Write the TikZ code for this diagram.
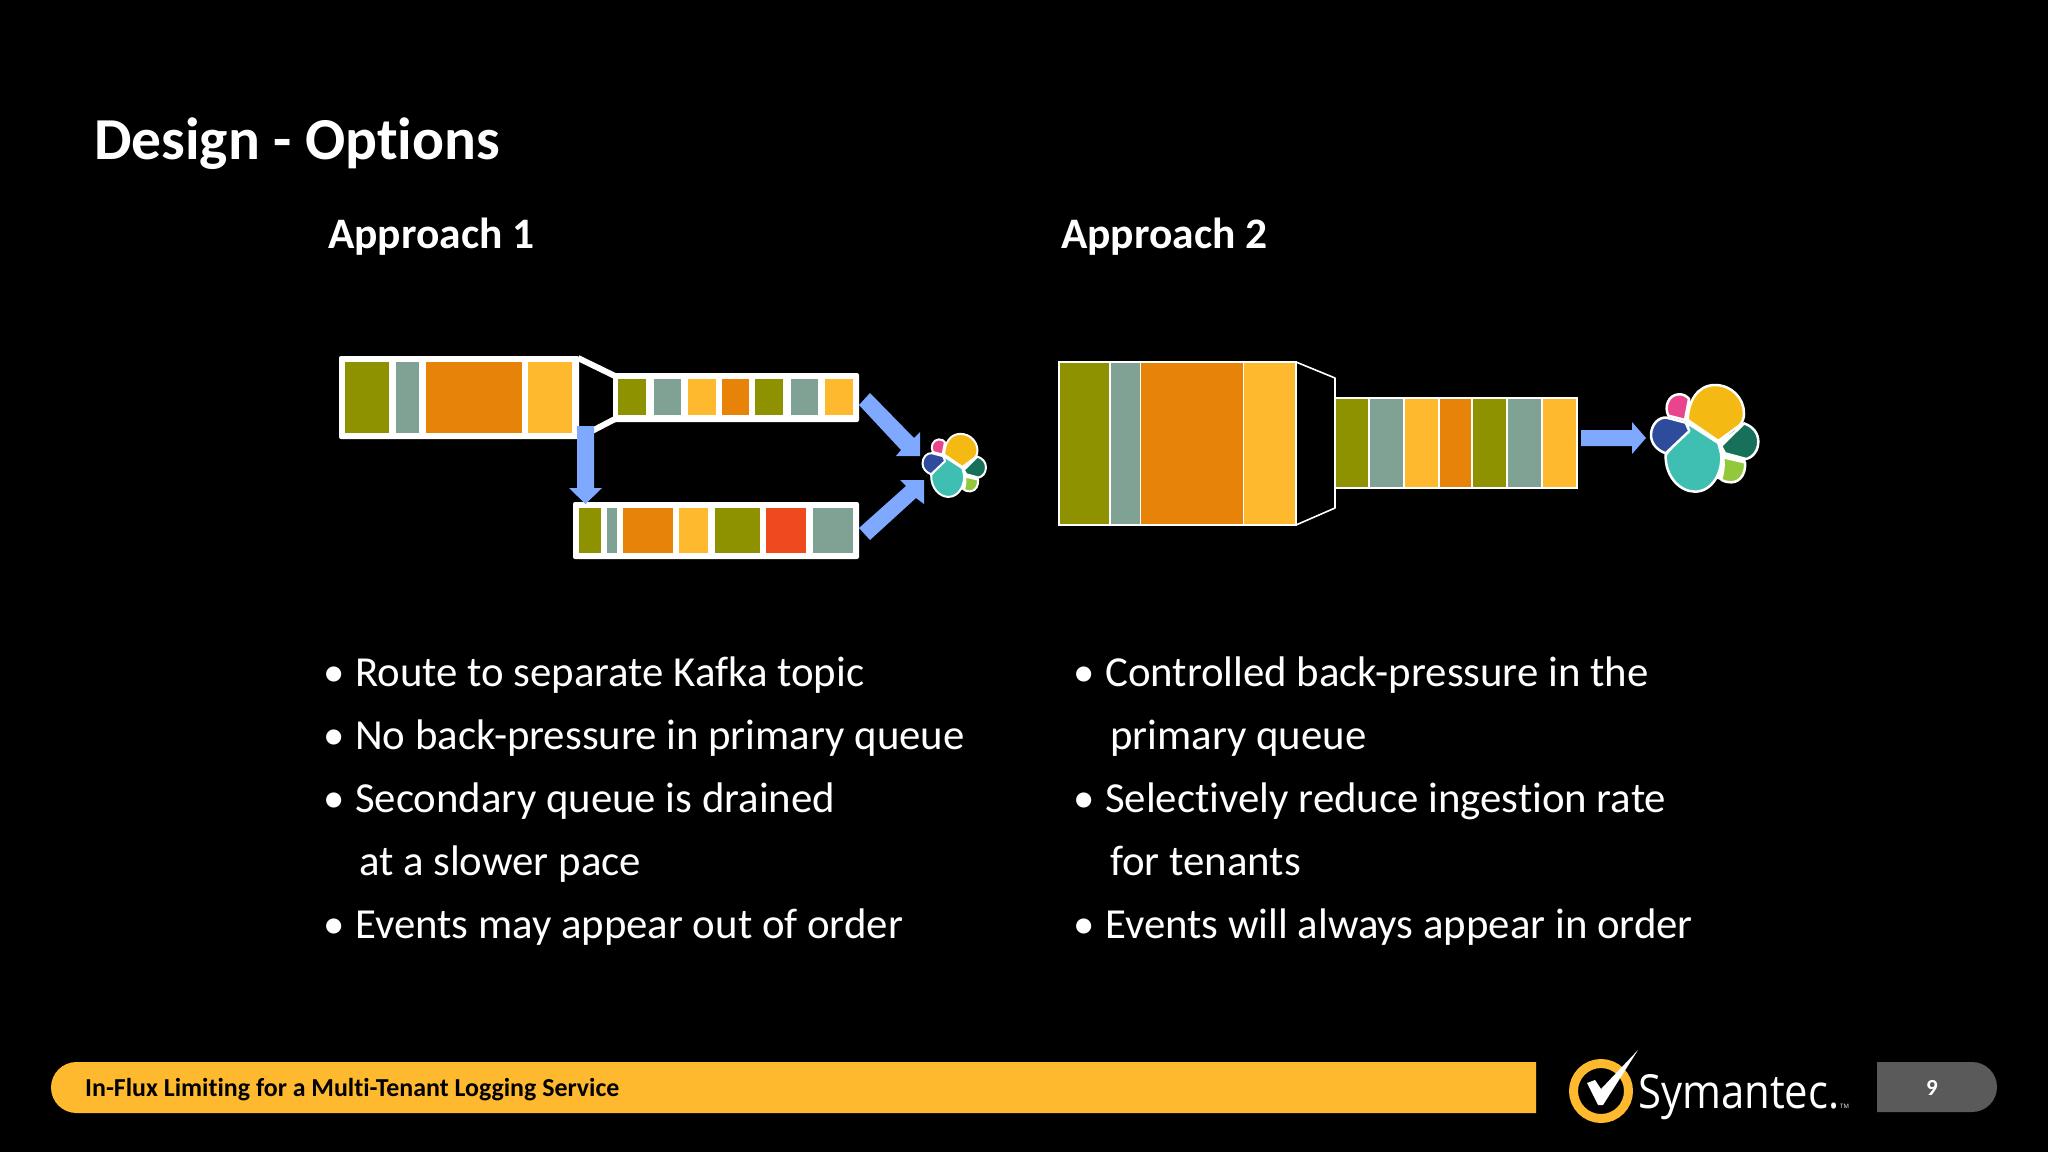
\documentclass[tikz,border=0pt]{standalone}
\usepackage{fontspec}
\setmainfont[Ligatures=NoCommon]{Carlito}
\newfontfamily\logofont{Open Sans}
\usetikzlibrary{calc}
\definecolor{qolive}{HTML}{8F9200}
\definecolor{qgray}{HTML}{7FA294}
\definecolor{qorange}{HTML}{E8830A}
\definecolor{qyellow}{HTML}{FFB92F}
\definecolor{qred}{HTML}{EE4A1E}
\definecolor{qarrow}{HTML}{7FA8FF}
\definecolor{qpage}{HTML}{5A5A5A}
\definecolor{lgyellow}{HTML}{F5B914}
\definecolor{lgpink}{HTML}{E8458C}
\definecolor{lgblue}{HTML}{2F4B9B}
\definecolor{lgteal}{HTML}{3EBFB2}
\definecolor{lgdark}{HTML}{17705A}
\definecolor{lglight}{HTML}{93C83C}
\tikzset{
	titletext/.style={anchor=base west, inner sep=0pt, text=white, font=\bfseries\fontsize{59.5}{64}\selectfont},
	headtext/.style={anchor=base west, inner sep=0pt, text=white, font=\bfseries\fontsize{43.5}{48}\selectfont},
	bodytext/.style={anchor=base west, inner sep=0pt, text=white, font=\fontsize{42.8}{48}\selectfont},
	cell/.style={draw=white, line width=1.6pt},
	funnel/.style={draw=white, line join=round},
	petal/.style={draw=white, line width=#1, line join=round}
}
\def\clusterlogo[#1](#2,#3)(#4){
	\begin{scope}[shift={(#2,#3)}, x=#4pt, y=-#4pt]
		\fill[white] (150,85) -- (160,150) -- (235,215) -- (312,165) -- (318,267) -- (315,280) -- (255,335) -- (160,300) -- (77,255) -- (148,183) -- (137,155) -- cycle;
		\draw[petal=#1, fill=lgyellow] (143,150) .. controls (145,90) and (175,45) .. (225,45) .. controls (275,45) and (312,85) .. (312,130) .. controls (312,145) and (308,155) .. (300,165) -- (235,213) -- cycle;
		\draw[petal=#1, fill=lgpink] (135,150) -- (85,137) .. controls (72,110) and (85,75) .. (115,73) .. controls (130,72) and (140,78) .. (147,87) -- cycle;
		\draw[petal=#1, fill=lgteal] (148,163) -- (235,219) -- (243,250) .. controls (250,300) and (220,365) .. (165,365) .. controls (120,365) and (75,320) .. (77,255) -- cycle;
		\draw[petal=#1, fill=lgblue] (80,143) -- (137,158) -- (148,183) -- (77,250) .. controls (50,240) and (33,220) .. (33,195) .. controls (33,165) and (55,140) .. (80,143) -- cycle;
		\draw[petal=#1, fill=lgdark] (243,228) -- (312,160) .. controls (340,170) and (355,190) .. (355,215) .. controls (355,240) and (340,262) .. (318,267) -- (255,250) -- cycle;
		\draw[petal=#1, fill=lglight] (250,262) -- (315,277) .. controls (318,305) and (305,335) .. (275,337) .. controls (260,337) and (248,333) .. (243,328) .. controls (250,310) and (252,285) .. (250,262) -- cycle;
	\end{scope}
}

\begin{document}
\begin{tikzpicture}[x=1pt, y=-1pt]
			%%%%% START %%%%%

			\fill[black] (0, 0) rectangle (2048, 1152);
			\useasboundingbox (0, 0) rectangle (2048, 1152);

			\node[titletext] (title) at (94, 159) {Design - Options};
			\node[headtext] (approachone) at (328, 248) {Approach 1};
			\node[headtext] (approachtwo) at (1061, 248) {Approach 2};

			% approach 1, primary queue
			\fill[white, rounded corners=2pt] (339, 356) rectangle (579, 439);
			\fill[qolive] (345, 362) rectangle (389, 433);
			\fill[qgray] (395.5, 362) rectangle (419, 433);
			\fill[qorange] (426, 362) rectangle (522, 433);
			\fill[qyellow] (528, 362) rectangle (572, 433);
			\draw[funnel, line width=6pt] (578, 358) -- (615, 376);
			\draw[funnel, line width=6pt] (590, 432) -- (615, 419);

			\fill[white, rounded corners=2pt] (613, 373) rectangle (859, 422);
			\fill[qolive] (618, 379) rectangle (646, 415);
			\fill[qgray] (653.5, 379) rectangle (681, 415);
			\fill[qyellow] (688, 379) rectangle (715.5, 415);
			\fill[qorange] (722, 379) rectangle (748.5, 415);
			\fill[qolive] (755, 379) rectangle (783, 415);
			\fill[qgray] (790.5, 379) rectangle (818, 415);
			\fill[qyellow] (825, 379) rectangle (852.5, 415);

			% approach 1, secondary queue
			\fill[white, rounded corners=2pt] (573, 502) rectangle (859, 559);
			\fill[qolive] (579, 508) rectangle (600.5, 553);
			\fill[qgray] (606.5, 508) rectangle (617, 553);
			\fill[qorange] (623, 508) rectangle (672.5, 553);
			\fill[qyellow] (679, 508) rectangle (708, 553);
			\fill[qolive] (714.5, 508) rectangle (760, 553);
			\fill[qred] (766, 508) rectangle (806, 553);
			\fill[qgray] (813, 508) rectangle (852.5, 553);

			\fill[qarrow] (577, 426) -- (594, 426) -- (594, 488) -- (602, 488) -- (585.5, 504) -- (569, 488) -- (577, 488) -- cycle;
			\fill[qarrow] (859, 405) -- (870, 393) -- (914, 438) -- (920, 432) -- (920, 456) -- (896, 456) -- (901, 450) -- cycle;
			\fill[qarrow] (859, 528) -- (870, 540) -- (916, 498) -- (924, 504) -- (924, 480) -- (900, 480) -- (906, 486) -- cycle;

			\clusterlogo[2pt](916,425)(0.197)

			% approach 2
			\draw[cell, fill=qolive] (1059, 362) rectangle (1110, 525);
			\draw[cell, fill=qgray] (1110, 362) rectangle (1140.5, 525);
			\draw[cell, fill=qorange] (1140.5, 362) rectangle (1243.5, 525);
			\draw[cell, fill=qyellow] (1243.5, 362) rectangle (1296, 525);
			\draw[funnel, line width=1.6pt] (1296, 362) -- (1335, 378) -- (1335, 508) -- (1296, 525);

			\draw[cell, fill=qolive] (1335, 398) rectangle (1369, 488);
			\draw[cell, fill=qgray] (1369, 398) rectangle (1404, 488);
			\draw[cell, fill=qyellow] (1404, 398) rectangle (1439, 488);
			\draw[cell, fill=qorange] (1439, 398) rectangle (1472, 488);
			\draw[cell, fill=qolive] (1472, 398) rectangle (1507, 488);
			\draw[cell, fill=qgray] (1507, 398) rectangle (1542, 488);
			\draw[cell, fill=qyellow] (1542, 398) rectangle (1577, 488);

			\fill[qarrow] (1581, 430) -- (1632, 430) -- (1632, 422) -- (1646, 438) -- (1632, 454) -- (1632, 446) -- (1581, 446) -- cycle;

			\clusterlogo[2.5pt](1640,370)(0.3333)

			% bullets
			\node[bodytext] (lefta) at (323, 686) {•};
			\node[bodytext] (leftatext) at (355, 686) {Route to separate Kafka topic};
			\node[bodytext] (leftb) at (323, 749) {•};
			\node[bodytext] (leftbtext) at (355, 749) {No back-pressure in primary queue};
			\node[bodytext] (leftc) at (323, 812) {•};
			\node[bodytext] (leftctext) at (355, 812) {Secondary queue is drained};
			\node[bodytext] (leftd) at (359, 875) {at a slower pace};
			\node[bodytext] (lefte) at (323, 938) {•};
			\node[bodytext] (leftetext) at (355, 938) {Events may appear out of order};

			\node[bodytext] (righta) at (1073, 686) {•};
			\node[bodytext] (rightatext) at (1105, 686) {Controlled back-pressure in the};
			\node[bodytext] (rightb) at (1110, 749) {primary queue};
			\node[bodytext] (rightc) at (1073, 812) {•};
			\node[bodytext] (rightctext) at (1105, 812) {Selectively reduce ingestion rate};
			\node[bodytext] (rightd) at (1110, 875) {for tenants};
			\node[bodytext] (righte) at (1073, 938) {•};
			\node[bodytext] (rightetext) at (1105, 938) {Events will always appear in order};

			% footer
			\fill[qyellow] (1536, 1062) -- (76.5, 1062) arc (270:90:25.5) -- (1536, 1113) -- cycle;
			\node[anchor=base west, inner sep=0pt, text=black, font=\bfseries\fontsize{25.9}{28}\selectfont] (footer) at (85, 1096) {In-Flux Limiting for a Multi-Tenant Logging Service};

			\draw[qyellow, line width=9pt] (1601, 1091) circle (27.5);
			\fill[white] (1587, 1083) -- (1595, 1080) -- (1601, 1089) -- (1638, 1050) -- (1603, 1105) -- (1598, 1105) -- cycle;
			\node[anchor=base west, inner sep=0pt, text=white, xscale=0.89, font=\logofont\fontsize{47}{50}\selectfont] (brand) at (1638, 1108) {Symantec.};
			\node[anchor=base west, inner sep=0pt, text=white, font=\logofont\fontsize{6}{7}\selectfont] (brandtm) at (1840, 1108) {TM};

			\fill[qpage] (1877, 1062) -- (1972, 1062) arc (-90:90:25) -- (1877, 1112) -- cycle;
			\node[inner sep=0pt, text=white, font=\bfseries\fontsize{23}{26}\selectfont] (pagenum) at (1932, 1088) {9};

			%%%%% END %%%%%
\end{tikzpicture}
\end{document}
